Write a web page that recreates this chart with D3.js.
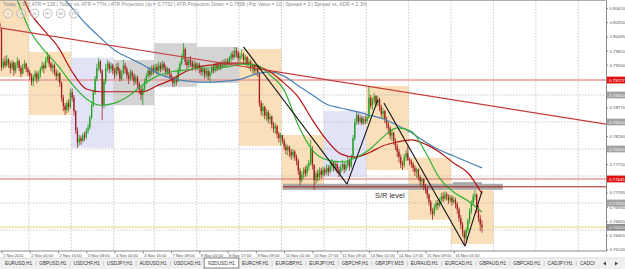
<!DOCTYPE html>
<html>
<head>
<meta charset="utf-8">
<script src="https://cdnjs.cloudflare.com/ajax/libs/d3/7.8.5/d3.min.js"></script>
<style>
  body { margin: 0; background: #fff; overflow: hidden; }
  svg { display: block; font-family: "Liberation Sans", Arial, sans-serif; }
</style>
</head>
<body>
<script>
// NZDUSD H1, precios en pips (valor / 10000). Las 8 primeras barras (1 Nov 00:00-07:00) quedan fuera a la izquierda
const firstOpen = 8055;

const closes = [
  8060, 8066, 8058, 8050, 8045, 8040, 8032, 8022,
  // 1 Nov
  7952, 7962, 7955, 7966, 7958, 7950, 7960, 7945, 7955, 7963, 7950, 7940, 7952, 7958, 7948, 7942,
  // 2 Nov
  7935, 7925, 7932, 7940, 7930, 7938, 7948, 7955, 7950, 7965, 7972, 7958, 7950, 7955, 7942, 7935, 7940, 7922, 7895, 7880, 7872, 7885, 7878, 7905,
  // 3 Nov
  7895, 7870, 7835, 7812, 7820, 7815, 7825, 7822, 7833, 7840, 7858, 7880, 7905, 7930, 7950, 7962, 7945, 7880, 7925, 7950, 7958, 7948, 7955, 7945,
  // 4 Nov
  7940, 7952, 7945, 7930, 7940, 7955, 7948, 7936, 7930, 7942, 7935, 7925, 7932, 7920, 7910, 7900, 7912, 7925, 7935, 7945, 7938, 7950, 7944, 7952,
  // 7 Nov
  7945, 7955, 7948, 7958, 7950, 7942, 7948, 7938, 7930, 7922, 7930, 7925, 7945, 7958, 7970, 7985, 7962, 7955, 7965, 7960, 7952, 7958, 7950, 7956,
  // 8 Nov
  7950, 7942, 7948, 7938, 7945, 7935, 7942, 7952, 7945, 7955, 7948, 7956, 7950, 7960, 7955, 7962, 7958, 7968, 7975, 7970, 7982, 7978, 7968, 7972,
  // 9 Nov
  7975, 7965, 7970, 7958, 7962, 7950, 7955, 7945, 7950, 7940, 7885, 7870, 7878, 7862, 7868, 7855, 7860, 7845, 7838, 7842, 7828, 7820, 7826, 7815,
  // 10 Nov
  7805, 7798, 7804, 7795, 7788, 7795, 7785, 7778, 7760, 7742, 7752, 7762, 7755, 7768, 7775, 7800, 7770, 7742, 7755, 7748, 7760, 7752, 7762, 7756,
  // 11 Nov
  7765, 7758, 7768, 7775, 7765, 7772, 7762, 7756, 7766, 7772, 7762, 7770, 7778, 7768, 7785, 7820, 7850, 7862, 7850, 7858, 7848, 7855, 7852, 7858,
  // 14 Nov
  7895, 7880, 7890, 7898, 7885, 7892, 7878, 7865, 7870, 7855, 7845, 7838, 7825, 7830, 7815, 7805, 7795, 7785, 7772, 7770, 7785, 7792, 7780, 7778,
  // 15 Nov
  7772, 7765, 7758, 7762, 7748, 7740, 7744, 7732, 7726, 7715, 7702, 7685, 7680, 7692, 7700, 7696, 7705, 7712, 7708, 7716, 7712, 7705, 7710, 7702,
  // 16 Nov
  7706, 7698, 7688, 7672, 7660, 7645, 7635, 7650, 7668, 7685, 7700, 7712, 7715, 7690, 7672, 7660, 7655
];

const highs = [
  8068, 8080, 8070, 8062, 8055, 8050, 8044, 8036,
  8025, 7968, 7972, 7974, 7968, 7962, 7965, 7962, 7960, 7970, 7966, 7955, 7958, 7965, 7960, 7952,
  7946, 7940, 7938, 7946, 7944, 7945, 7952, 7962, 7960, 7970, 7980, 7975, 7962, 7960, 7958, 7948, 7945, 7942, 7925, 7900, 7885, 7890, 7892, 7912,
  7912, 7900, 7872, 7840, 7826, 7825, 7830, 7832, 7838, 7846, 7862, 7885, 7910, 7935, 7958, 7969, 7965, 7948, 7930, 7958, 7965, 7962, 7960, 7958,
  7950, 7958, 7960, 7950, 7946, 7965, 7960, 7952, 7942, 7948, 7946, 7940, 7938, 7936, 7925, 7915, 7918, 7930, 7940, 7950, 7952, 7955, 7956, 7958,
  7958, 7962, 7960, 7964, 7962, 7955, 7952, 7950, 7942, 7935, 7934, 7936, 7950, 7962, 7976, 7996, 7988, 7968, 7970, 7972, 7965, 7964, 7962, 7960,
  7960, 7955, 7952, 7950, 7950, 7948, 7946, 7956, 7958, 7960, 7962, 7960, 7962, 7965, 7966, 7968, 7968, 7972, 7980, 7982, 7989, 7988, 7982, 7978,
  7985, 7978, 7975, 7972, 7968, 7965, 7960, 7958, 7955, 7952, 7942, 7890, 7885, 7880, 7874, 7872, 7866, 7862, 7850, 7848, 7845, 7832, 7830, 7818,
  7820, 7810, 7808, 7806, 7800, 7800, 7798, 7790, 7782, 7765, 7758, 7766, 7768, 7772, 7780, 7817, 7805, 7772, 7760, 7762, 7766, 7765, 7768, 7766,
  7772, 7770, 7775, 7782, 7778, 7778, 7775, 7768, 7772, 7780, 7775, 7776, 7785, 7782, 7790, 7826, 7856, 7870, 7866, 7864, 7862, 7860, 7862, 7864,
  7917, 7900, 7895, 7904, 7900, 7898, 7895, 7882, 7876, 7872, 7860, 7850, 7842, 7836, 7832, 7820, 7810, 7800, 7790, 7778, 7790, 7798, 7806, 7784,
  7781, 7776, 7770, 7766, 7764, 7752, 7748, 7746, 7735, 7730, 7718, 7705, 7690, 7698, 7705, 7706, 7710, 7718, 7720, 7722, 7720, 7716, 7715, 7714,
  7712, 7710, 7702, 7692, 7678, 7665, 7650, 7655, 7672, 7690, 7705, 7718, 7724, 7718, 7695, 7678, 7668
];

const lows = [
  8050, 8056, 8048, 8042, 8036, 8030, 8024, 8015,
  7945, 7948, 7950, 7952, 7950, 7940, 7946, 7936, 7940, 7950, 7944, 7933, 7938, 7948, 7942, 7936,
  7928, 7918, 7916, 7926, 7922, 7925, 7932, 7944, 7940, 7948, 7960, 7952, 7944, 7940, 7936, 7928, 7925, 7915, 7888, 7870, 7863, 7866, 7870, 7875,
  7888, 7862, 7828, 7802, 7806, 7808, 7812, 7815, 7818, 7828, 7836, 7855, 7878, 7900, 7925, 7945, 7940, 7854, 7875, 7920, 7944, 7940, 7942, 7938,
  7930, 7935, 7938, 7925, 7926, 7938, 7940, 7930, 7920, 7926, 7928, 7918, 7920, 7912, 7902, 7890, 7881, 7905, 7920, 7930, 7932, 7935, 7938, 7940,
  7938, 7940, 7942, 7944, 7945, 7935, 7936, 7930, 7925, 7915, 7916, 7918, 7924, 7940, 7955, 7966, 7955, 7948, 7950, 7952, 7945, 7948, 7944, 7946,
  7940, 7936, 7935, 7930, 7932, 7928, 7922, 7938, 7940, 7942, 7944, 7945, 7946, 7948, 7950, 7952, 7954, 7955, 7962, 7965, 7968, 7970, 7962, 7960,
  7966, 7958, 7955, 7950, 7948, 7944, 7940, 7938, 7936, 7934, 7878, 7862, 7860, 7855, 7852, 7848, 7846, 7838, 7830, 7828, 7820, 7812, 7806, 7810,
  7798, 7790, 7788, 7785, 7780, 7782, 7778, 7770, 7752, 7733, 7738, 7745, 7748, 7750, 7760, 7770, 7762, 7724, 7735, 7740, 7742, 7745, 7748, 7750,
  7752, 7750, 7754, 7760, 7758, 7760, 7755, 7748, 7752, 7760, 7755, 7758, 7764, 7760, 7764, 7782, 7815, 7845, 7845, 7846, 7844, 7845, 7846, 7848,
  7856, 7875, 7872, 7882, 7878, 7880, 7870, 7858, 7855, 7848, 7838, 7828, 7818, 7815, 7808, 7798, 7785, 7775, 7765, 7761, 7766, 7778, 7778, 7770,
  7765, 7758, 7750, 7746, 7742, 7732, 7728, 7724, 7718, 7708, 7695, 7678, 7669, 7675, 7686, 7688, 7692, 7700, 7702, 7704, 7705, 7698, 7700, 7695,
  7698, 7690, 7680, 7665, 7652, 7638, 7624, 7630, 7645, 7662, 7680, 7695, 7705, 7682, 7665, 7648, 7645
];

// Días (barra de inicio, 0 = 1 Nov 08:00) y tipo de caja de sesión
const dayStarts = [-8, 16, 40, 64, 87, 111, 135, 159, 183, 207, 231, 255];
const dayEnd = 279;
const dayTypes = ['down', 'down', 'up', 'flat', 'flat', 'flat', 'down', 'down', 'up', 'down', 'down', 'down'];
const gridDays = [16, 40, 64, 87, 111, 135, 159, 183, 207, 231, 255, 279, 303, 327];

// Medias móviles leídas cada 8 barras
const maStep = 8;
const maFast = [8141, 8083, 8020, 7983, 7954, 7920, 7893, 7881, 7885, 7898, 7919, 7935, 7943, 7946, 7950, 7950, 7952, 7957, 7956, 7937, 7909, 7844, 7798, 7780, 7776, 7783, 7798, 7822, 7839, 7833, 7794, 7746, 7720, 7704, 7683];
const maMid = [8159, 8113, 8054, 8020, 7989, 7943, 7911, 7906, 7906, 7906, 7906, 7917, 7928, 7943, 7952, 7956, 7959, 7959, 7954, 7943, 7922, 7896, 7854, 7817, 7791, 7785, 7793, 7806, 7813, 7817, 7809, 7794, 7774, 7756, 7717];
const maSlow = [8206, 8178, 8148, 8119, 8091, 8061, 8031, 8006, 7983, 7969, 7956, 7941, 7931, 7926, 7924, 7924, 7926, 7930, 7939, 7943, 7935, 7917, 7900, 7883, 7876, 7870, 7863, 7856, 7844, 7830, 7813, 7798, 7787, 7776, 7765];

// Objetos dibujados: [barra, precio]
const redTrend = [[0, 0.8024], [342.2, 0.7846]];
const blackLines = [
  [[137, 0.7989], [195.6, 0.7735]],
  [[195.6, 0.7735], [213, 0.7891]],
  [[216.5, 0.7885], [262.4, 0.7620]],
  [[262.4, 0.7620], [272, 0.7722]]
];
const srLevel = 0.7730;
const srBars = [159.3, 283.8];
const shortLine = [255.5, 272, 0.7737];
const hLevelTop = 0.79277;
const hLevelMid = 0.77445;
const roundLevels = [0.7900, 0.7850, 0.7800, 0.7750, 0.7700, 0.7650];
const grayLabels = [0.7900, 0.7850, 0.7800, 0.7700];

const priceTicks = [0.80610, 0.80350, 0.80085, 0.79820, 0.79560, 0.79295, 0.79033, 0.78770, 0.78505, 0.78240, 0.77980, 0.77720, 0.77455, 0.77195, 0.76930, 0.76665, 0.76405, 0.76140];
const dateLabels = ['1 Nov 2011', '2 Nov 00:00', '2 Nov 16:00', '3 Nov 08:00', '4 Nov 00:00', '4 Nov 16:00', '7 Nov 09:00', '8 Nov 01:00', '8 Nov 17:00', '9 Nov 09:00', '10 Nov 01:00', '10 Nov 17:00', '11 Nov 09:00', '14 Nov 01:00', '14 Nov 17:00', '15 Nov 09:00', '16 Nov 01:00'];
const dateStep = 16;

const infoItems = ['Today = 98', 'ATR = 128', 'Today vs. ATR = 77%', 'ATR Projection Up = 0.7752', 'ATR Projection Down = 0.7598', 'Pip Value = 10', 'Spread = 3', 'Spread vs. ADR = 2.3%'];
const tfButtons = ['5', '15', '30', 'H1', 'H4', 'D1'];
const tabs = ['EURUSD,H1', 'GBPUSD,H1', 'USDCHF,H1', 'USDJPY,H1', 'AUDUSD,H1', 'USDCAD,H1', 'NZDUSD,H1', 'EURCHF,H1', 'EURGBP,H1', 'EURJPY,H1', 'GBPCHF,H1', 'GBPJPY,M15', 'EURAUD,H1', 'EURCAD,H1', 'GBPAUD,H1', 'GBPCAD,H1', 'CADJPY,H1', 'CADCHF,H1'];
const activeTab = 'NZDUSD,H1';

// ---------------------------------------------------------------

const w = 625, h = 269;
const pw = 606, ph = 251;

const svg = d3.select('body')
  .append('svg')
  .attr('width', w)
  .attr('height', h);

const x = d3.scaleLinear().domain([0, 342.2]).range([1.5, pw]);
const y = d3.scaleLinear().domain([0.761111, 0.807593]).range([ph, 0]);

const pre = 8;
const bars = closes.map((c, i) => {
  const o = i === 0 ? firstOpen : closes[i - 1];
  return {
    j: i - pre,
    o: o / 1e4,
    c: c / 1e4,
    h: Math.max(highs[i], o, c) / 1e4,
    l: Math.min(lows[i], o, c) / 1e4
  };
});

const boxColor = { down: '#f9e0ba', up: '#e3e3f8', flat: '#d4d4d4' };

svg.append('defs').append('clipPath').attr('id', 'plot')
  .append('rect').attr('width', pw).attr('height', ph);

const g = svg.append('g').attr('clip-path', 'url(#plot)');

// cajas diarias
const days = dayStarts.map((s, k) => {
  const e = k < dayStarts.length - 1 ? dayStarts[k + 1] : dayEnd;
  const sel = bars.filter((b) => b.j >= s && b.j < e);
  return { s, e, hi: d3.max(sel, (b) => b.h), lo: d3.min(sel, (b) => b.l), type: dayTypes[k] };
});

g.selectAll('rect.day')
  .data(days)
  .enter()
  .append('rect')
  .attr('class', 'day')
  .attr('x', (d) => x(d.s - 0.5))
  .attr('width', (d) => x(d.e - 0.5) - x(d.s - 0.5))
  .attr('y', (d) => y(d.hi))
  .attr('height', (d) => y(d.lo) - y(d.hi))
  .attr('fill', (d) => boxColor[d.type]);

// rejilla
g.selectAll('line.vgrid')
  .data(gridDays)
  .enter()
  .append('line')
  .attr('x1', (d) => x(d - 0.5)).attr('x2', (d) => x(d - 0.5))
  .attr('y1', 0).attr('y2', ph)
  .attr('stroke', '#b4b4b4').attr('stroke-width', 0.7)
  .attr('stroke-dasharray', '1.5,1.5');

g.selectAll('line.hgrid')
  .data(roundLevels)
  .enter()
  .append('line')
  .attr('x1', 0).attr('x2', pw)
  .attr('y1', (d) => y(d)).attr('y2', (d) => y(d))
  .attr('stroke', '#b4b4b4').attr('stroke-width', 0.7)
  .attr('stroke-dasharray', '1.5,1.5');

// líneas horizontales
g.append('line')
  .attr('x1', 0).attr('x2', pw)
  .attr('y1', y(hLevelTop)).attr('y2', y(hLevelTop))
  .attr('stroke', '#e79a9a').attr('stroke-width', 1.6);

g.append('line')
  .attr('x1', 0).attr('x2', pw)
  .attr('y1', y(hLevelMid)).attr('y2', y(hLevelMid))
  .attr('stroke', '#d25a5a').attr('stroke-width', 0.9);

const lastClose = bars[bars.length - 1].c;
g.append('line')
  .attr('x1', 0).attr('x2', pw)
  .attr('y1', y(lastClose)).attr('y2', y(lastClose))
  .attr('stroke', '#f3e3a0').attr('stroke-width', 1.6);

// banda S/R
g.append('rect')
  .attr('x', x(srBars[0]))
  .attr('width', x(srBars[1]) - x(srBars[0]))
  .attr('y', y(srLevel) - 3)
  .attr('height', 6)
  .attr('fill', '#a9a9a9');

// velas
const velas = g.selectAll('g.bar')
  .data(bars)
  .enter()
  .append('g')
  .attr('fill', (d) => d.c >= d.o ? '#21a021' : '#a41d1d')
  .attr('stroke', (d) => d.c >= d.o ? '#21a021' : '#a41d1d');

velas.append('line')
  .attr('x1', (d) => x(d.j)).attr('x2', (d) => x(d.j))
  .attr('y1', (d) => y(d.h)).attr('y2', (d) => y(d.l))
  .attr('stroke-width', 0.8);

velas.append('rect')
  .attr('x', (d) => x(d.j) - 0.65)
  .attr('width', 1.3)
  .attr('y', (d) => y(Math.max(d.o, d.c)))
  .attr('height', (d) => Math.max(0.6, Math.abs(y(d.o) - y(d.c))))
  .attr('stroke', 'none');

// medias móviles
const maLine = d3.line()
  .x((d, i) => x(i * maStep))
  .y((d) => y(d / 1e4))
  .curve(d3.curveMonotoneX);

[[maSlow, '#4a82b4'], [maMid, '#b41414'], [maFast, '#33b033']].forEach(([serie, col]) => {
  g.append('path')
    .attr('d', maLine(serie))
    .attr('fill', 'none')
    .attr('stroke', col)
    .attr('stroke-width', 1.2);
});

// objetos
const seg = d3.line().x((d) => x(d[0])).y((d) => y(d[1]));

g.append('path')
  .attr('d', seg(redTrend))
  .attr('stroke', '#c83c3c').attr('stroke-width', 1.2).attr('fill', 'none');

g.selectAll('path.black')
  .data(blackLines)
  .enter()
  .append('path')
  .attr('d', (d) => seg(d))
  .attr('stroke', '#111').attr('stroke-width', 1.1).attr('fill', 'none');

g.append('line')
  .attr('x1', x(srBars[0])).attr('x2', pw)
  .attr('y1', y(srLevel)).attr('y2', y(srLevel))
  .attr('stroke', '#a82020').attr('stroke-width', 1);

g.append('line')
  .attr('x1', x(shortLine[0])).attr('x2', x(shortLine[1]))
  .attr('y1', y(shortLine[2])).attr('y2', y(shortLine[2]))
  .attr('stroke', '#555').attr('stroke-width', 0.9);

g.append('text')
  .attr('x', x(211.5))
  .attr('y', y(srLevel) + 11)
  .attr('fill', '#333')
  .style('font-size', '7.4px')
  .text('S/R level');

// marco
svg.append('line').attr('x1', 0).attr('x2', pw).attr('y1', 0.5).attr('y2', 0.5).attr('stroke', '#9a9a9a').attr('stroke-width', 0.8);

// eje de precios
const ejeY = svg.append('g')
  .attr('transform', `translate(${pw},0)`)
  .call(d3.axisRight(y).tickValues(priceTicks).tickFormat(d3.format('.5f')).tickSize(2).tickSizeOuter(0));

ejeY.select('.domain').attr('stroke', '#8a8a8a');
ejeY.selectAll('line').attr('stroke', '#8a8a8a');
ejeY.selectAll('text')
  .attr('x', 3.5)
  .style('font-size', '4.3px')
  .style('font-family', '"Liberation Sans", Arial, sans-serif')
  .attr('fill', '#555');

function etiqueta(valor, fondo, texto) {
  const e = svg.append('g').attr('transform', `translate(${pw + 1},${y(valor)})`);
  e.append('rect').attr('x', 0).attr('y', -3.4).attr('width', 18).attr('height', 6.8).attr('fill', fondo);
  e.append('text').attr('x', 2).attr('y', 1.6).attr('fill', texto).style('font-size', '4.3px').text(d3.format('.5f')(valor));
}

grayLabels.forEach((v) => etiqueta(v, '#a3a3a3', '#f2f2f2'));
etiqueta(lastClose, '#8f8f8f', '#f5f5f5');
etiqueta(hLevelTop, '#e01010', '#ffffff');
etiqueta(hLevelMid, '#e01010', '#ffffff');

// eje de fechas
const dateBars = dateLabels.map((d, i) => i * dateStep);
const ejeX = svg.append('g')
  .attr('transform', `translate(0,${ph})`)
  .call(d3.axisBottom(x).tickValues(dateBars).tickFormat((d, i) => dateLabels[i]).tickSize(2.5).tickSizeOuter(0));

ejeX.select('.domain').attr('stroke', '#8a8a8a').attr('d', `M0,0H${pw}`);
ejeX.selectAll('line').attr('stroke', '#8a8a8a');
ejeX.selectAll('text')
  .attr('text-anchor', 'start')
  .attr('x', 1)
  .attr('y', 3)
  .style('font-size', '4.1px')
  .style('font-family', '"Liberation Sans", Arial, sans-serif')
  .attr('fill', '#555');

// barra de información
svg.append('text')
  .attr('x', 3)
  .attr('y', 6.3)
  .attr('textLength', 364)
  .attr('lengthAdjust', 'spacingAndGlyphs')
  .style('font-size', '4.6px')
  .attr('fill', '#8c8c8c')
  .text(infoItems.join('   |   '));

const botones = svg.selectAll('g.tf')
  .data(tfButtons)
  .enter()
  .append('g')
  .attr('transform', (d, i) => `translate(${8 + i * 13.2},13.5)`);

botones.append('circle')
  .attr('r', 4.4)
  .attr('fill', 'rgba(255,255,255,0.35)')
  .attr('stroke', '#a8a8a8')
  .attr('stroke-width', 0.8);

botones.append('text')
  .attr('text-anchor', 'middle')
  .attr('y', 1.3)
  .style('font-size', '3.6px')
  .attr('fill', '#999')
  .text((d) => d);

// pestañas
const barraTabs = svg.append('g');
barraTabs.append('rect').attr('x', 0).attr('y', 258).attr('width', w).attr('height', 11).attr('fill', '#f0f0f0');
barraTabs.append('line').attr('x1', 0).attr('x2', w).attr('y1', 258).attr('y2', 258).attr('stroke', '#c8c8c8').attr('stroke-width', 0.6);

const fondoTabs = barraTabs.append('g');
const textoTabs = barraTabs.append('g');

let cursor = 5;
tabs.forEach((name, k) => {
  const t = textoTabs.append('text')
    .attr('x', cursor)
    .attr('y', 265.3)
    .style('font-size', '4.7px')
    .attr('fill', '#333')
    .text(name);
  const tw = t.node().getComputedTextLength();
  if (name === activeTab) {
    fondoTabs.append('rect')
      .attr('x', cursor - 4).attr('y', 258)
      .attr('width', tw + 8).attr('height', 10)
      .attr('fill', '#fff').attr('stroke', '#333').attr('stroke-width', 0.6);
  }
  cursor += tw + 3.6;
  if (name !== activeTab && tabs[k + 1] !== activeTab) {
    textoTabs.append('text').attr('x', cursor - 0.5).attr('y', 265.3).style('font-size', '4.7px').attr('fill', '#999').text('|');
  }
  cursor += 3.6;
});

barraTabs.append('rect').attr('x', 595).attr('y', 258.5).attr('width', 30).attr('height', 10.5).attr('fill', '#f0f0f0');
barraTabs.append('path').attr('d', 'M603,263.5 l3,-2 v4 z').attr('fill', '#444');
barraTabs.append('path').attr('d', 'M618,263.5 l-3,-2 v4 z').attr('fill', '#444');
</script>
</body>
</html>
